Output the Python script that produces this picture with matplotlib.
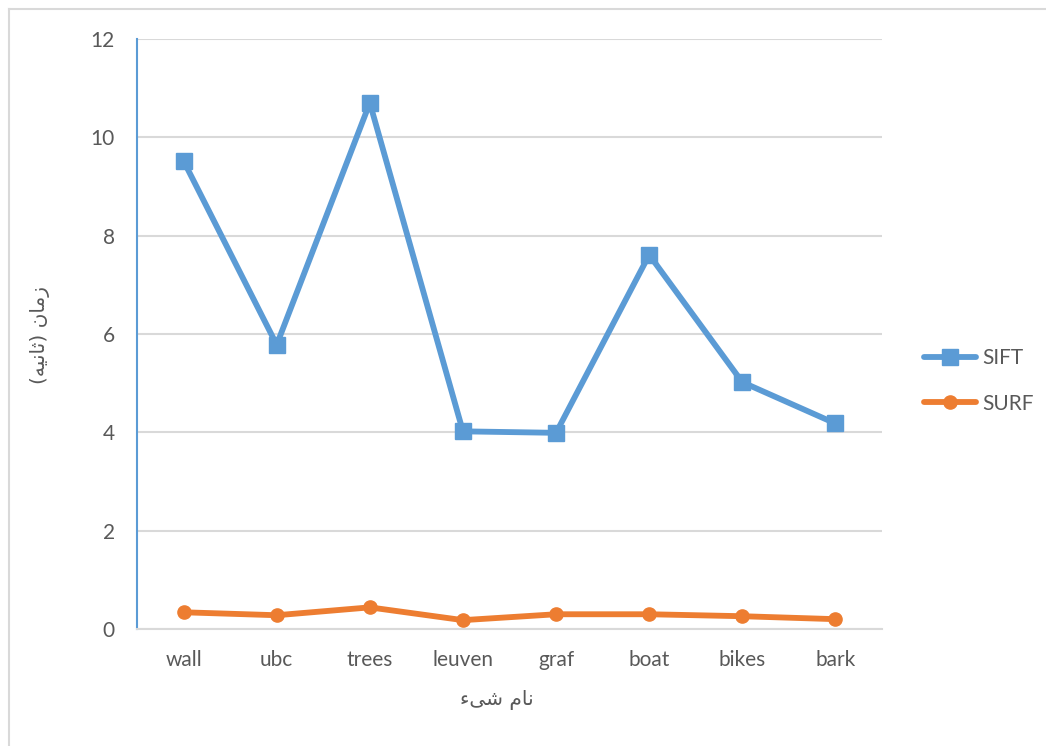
import matplotlib
matplotlib.use("Agg")
import matplotlib.pyplot as plt
from matplotlib.lines import Line2D

# Data
categories = ["wall", "ubc", "trees", "leuven", "graf", "boat", "bikes", "bark"]
sift_times = [9.52, 5.78, 10.70, 4.02, 3.99, 7.61, 5.02, 4.18]
surf_times = [0.34, 0.28, 0.44, 0.18, 0.30, 0.30, 0.26, 0.20]
y_ticks = [0, 2, 4, 6, 8, 10, 12]

# Persian labels, written in visual (left-to-right) order with contextual letter forms
x_label = "\uFE80\uFEF0\uFEB7 \uFEE1\uFE8E\uFEE7"               # نام شیء
y_label = "(\uFEEA\uFEF4\uFEE7\uFE8E\uFE9B) \uFEE5\uFE8E\uFEE3\uFEAF"  # زمان (ثانیه)

BLUE = "#5B9BD5"
ORANGE = "#ED7D31"
GRID = "#D9D9D9"
TEXT = "#595959"

plt.rcParams["font.family"] = ["Lato", "DejaVu Sans"]

fig = plt.figure(figsize=(10.46, 7.46), dpi=100)
ax = fig.add_axes([137 / 1046, 1 - 629 / 746, (882 - 137) / 1046, (629 - 39) / 746])

LW = 4.2
x = list(range(len(categories)))
ax.plot(x, sift_times, color=BLUE, lw=LW, marker="s", ms=11,
        solid_joinstyle="round", solid_capstyle="round", zorder=3, label="SIFT")
ax.plot(x, surf_times, color=ORANGE, lw=LW, marker="o", ms=9.5,
        solid_joinstyle="round", solid_capstyle="round", zorder=3, label="SURF")

ax.set_xlim(-0.5, len(categories) - 0.5)
ax.set_ylim(0, 12)
ax.set_yticks(y_ticks)
ax.set_xticks(x)
ax.set_xticklabels(categories)
ax.yaxis.grid(True, color=GRID, lw=1.5)
ax.set_axisbelow(True)

for side in ("top", "right"):
    ax.spines[side].set_visible(False)
ax.spines["left"].set_color(BLUE)
ax.spines["left"].set_linewidth(1.5)
ax.spines["bottom"].set_color(GRID)
ax.spines["bottom"].set_linewidth(1.5)

ax.tick_params(axis="both", length=0, labelsize=15, labelcolor=TEXT)
ax.tick_params(axis="y", pad=16)
ax.tick_params(axis="x", pad=15)

fig.text(40 / 1046, 1 - 335 / 746, y_label, rotation=90, ha="center", va="center",
         fontsize=14.5, color=TEXT, family=["DejaVu Sans"])
fig.text(497 / 1046, 1 - 700 / 746, x_label, ha="center", va="center",
         fontsize=14.5, color=TEXT, family=["DejaVu Sans"])

handles = [
    Line2D([], [], color=BLUE, lw=LW, marker="s", ms=11, solid_capstyle="round"),
    Line2D([], [], color=ORANGE, lw=LW, marker="o", ms=9.5, solid_capstyle="round"),
]
fig.legend(handles, ["SIFT", "SURF"], loc="center left",
           bbox_to_anchor=(905 / 1046, 1 - 381 / 746), frameon=False,
           fontsize=15, labelcolor=TEXT, handlelength=2.5, handletextpad=0.3,
           labelspacing=1.2)

# Chart-area frame along the left and top edges
fig.add_artist(Line2D([9 / 1046, 9 / 1046], [0, 1 - 9 / 746],
                      transform=fig.transFigure, color=GRID, lw=1.5))
fig.add_artist(Line2D([9 / 1046, 1], [1 - 9 / 746, 1 - 9 / 746],
                      transform=fig.transFigure, color=GRID, lw=1.5))

fig.savefig("out.png", dpi=100)
